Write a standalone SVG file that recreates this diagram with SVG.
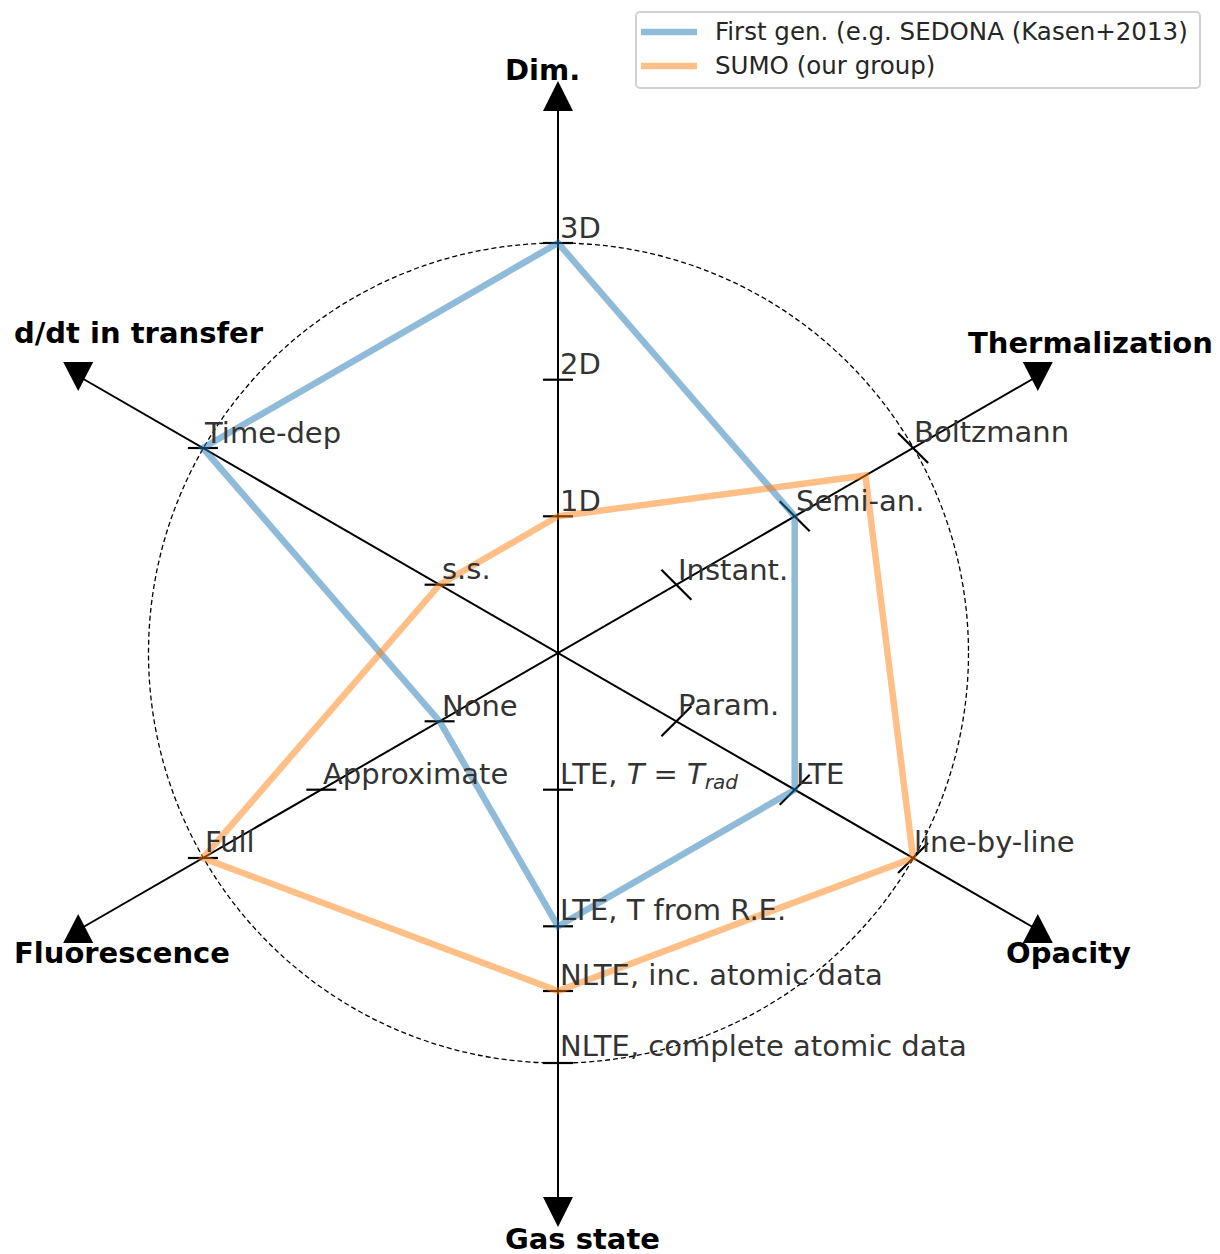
<svg xmlns="http://www.w3.org/2000/svg" width="1220" height="1254" viewBox="0 0 1220 1254">
<style>
  .axis { stroke: #000; stroke-width: 2; fill: none; }
  .tick { stroke: #000; stroke-width: 2.2; fill: none; }
  .circ { stroke: #000; stroke-width: 1.3; stroke-dasharray: 5 3; fill: none; }
  .arrow { fill: #000; }
  .blue { stroke: #1f77b4; stroke-opacity: 0.5; stroke-width: 6.5; fill: none; stroke-linejoin: miter; }
  .orange { stroke: #ff7f0e; stroke-opacity: 0.5; stroke-width: 6.5; fill: none; stroke-linejoin: miter; }
  .title { font-family: "DejaVu Sans", sans-serif; font-weight: bold; font-size: 29px; fill: #000; }
  .lbl { font-family: "DejaVu Sans", sans-serif; font-size: 29px; fill: #333; }
  .leg { font-family: "DejaVu Sans", sans-serif; font-size: 24.5px; fill: #262626; }
</style>
<rect x="0" y="0" width="1220" height="1254" fill="#fff"/>

<g id="grid">
  <circle class="circ" cx="558.5" cy="653" r="410"/>
</g>

<g id="connectors">
  <line class="axis" x1="558" y1="96" x2="558" y2="1212"/>
  <line class="axis" x1="1037.8" y1="376" x2="78.2" y2="930"/>
  <line class="axis" x1="78.2" y1="376" x2="1037.8" y2="930"/>
</g>

<g id="ticks">
  <line class="tick" x1="543" y1="516.3" x2="573" y2="516.3"/>
  <line class="tick" x1="543" y1="379.7" x2="573" y2="379.7"/>
  <line class="tick" x1="543" y1="243" x2="573" y2="243"/>
  <line class="tick" x1="543" y1="789.7" x2="573" y2="789.7"/>
  <line class="tick" x1="543" y1="926.3" x2="573" y2="926.3"/>
  <line class="tick" x1="543" y1="991" x2="573" y2="991"/>
  <line class="tick" x1="543" y1="1063" x2="573" y2="1063"/>
  <line class="tick" x1="661.4" y1="569.7" x2="691.4" y2="599.7"/>
  <line class="tick" x1="779.7" y1="501.3" x2="809.7" y2="531.3"/>
  <line class="tick" x1="898.1" y1="433" x2="928.1" y2="463"/>
  <line class="tick" x1="661.4" y1="736.3" x2="691.4" y2="706.3"/>
  <line class="tick" x1="779.7" y1="804.7" x2="809.7" y2="774.7"/>
  <line class="tick" x1="898.1" y1="873" x2="928.1" y2="843"/>
  <line class="tick" x1="424.6" y1="721.3" x2="454.6" y2="721.3"/>
  <line class="tick" x1="306.3" y1="789.7" x2="336.3" y2="789.7"/>
  <line class="tick" x1="187.9" y1="858" x2="217.9" y2="858"/>
  <line class="tick" x1="424.6" y1="584.7" x2="454.6" y2="584.7"/>
  <line class="tick" x1="187.9" y1="448" x2="217.9" y2="448"/>
</g>

<g id="arrowheads">
  <polygon class="arrow" points="558,81 543,111 573,111"/>
  <polygon class="arrow" points="543,1197 573,1197 558,1227"/>
  <polygon class="arrow" points="1022.8,362 1052.8,362 1037.8,391"/>
  <polygon class="arrow" points="63.2,362 93.2,362 78.2,391"/>
  <polygon class="arrow" points="78.2,914 63.2,943 93.2,943"/>
  <polygon class="arrow" points="1037.8,914 1022.8,943 1052.8,943"/>
</g>

<g id="series-first-gen">
  <polygon class="blue" points="558,243 794.7,516.3 794.7,789.7 558,926.3 439.6,721.3 202.9,448"/>
</g>
<g id="series-sumo">
  <polygon class="orange" points="558,516.3 865.4,475.5 913.1,858 558,991 202.9,858 439.6,584.7"/>
</g>

<g id="axis-titles">
  <text class="title" x="505" y="80">Dim.</text>
  <text class="title" x="505" y="1249">Gas state</text>
  <text class="title" x="968" y="353">Thermalization</text>
  <text class="title" x="14" y="343">d/dt in transfer</text>
  <text class="title" x="14" y="963">Fluorescence</text>
  <text class="title" x="1006" y="963">Opacity</text>
</g>

<g id="tick-labels">
  <text class="lbl" x="560" y="511">1D</text>
  <text class="lbl" x="560" y="374">2D</text>
  <text class="lbl" x="560" y="238">3D</text>
  <text class="lbl" x="560" y="784">LTE, <tspan font-style="italic">T</tspan> = <tspan font-style="italic">T</tspan><tspan font-style="italic" font-size="20" dy="5">rad</tspan></text>
  <text class="lbl" x="560" y="920">LTE, T from R.E.</text>
  <text class="lbl" x="560" y="985">NLTE, inc. atomic data</text>
  <text class="lbl" x="560" y="1056">NLTE, complete atomic data</text>
  <text class="lbl" x="678" y="580">Instant.</text>
  <text class="lbl" x="796" y="511">Semi-an.</text>
  <text class="lbl" x="914" y="442">Boltzmann</text>
  <text class="lbl" x="678" y="715">Param.</text>
  <text class="lbl" x="796" y="784">LTE</text>
  <text class="lbl" x="914" y="852">line-by-line</text>
  <text class="lbl" x="442" y="716">None</text>
  <text class="lbl" x="323" y="784">Approximate</text>
  <text class="lbl" x="205" y="852">Full</text>
  <text class="lbl" x="442" y="579">s.s.</text>
  <text class="lbl" x="205" y="443">Time-dep</text>
</g>

<g id="legend">
  <rect x="636" y="12" width="564" height="76" rx="4" ry="4" fill="#fff" fill-opacity="0.8" stroke="#d0d0d0" stroke-width="2"/>
  <line x1="641" y1="32" x2="697" y2="32" class="blue"/>
  <line x1="641" y1="66" x2="697" y2="66" class="orange"/>
  <text class="leg" x="715" y="40">First gen. (e.g. SEDONA (Kasen+2013)</text>
  <text class="leg" x="715" y="74">SUMO (our group)</text>
</g>
</svg>
